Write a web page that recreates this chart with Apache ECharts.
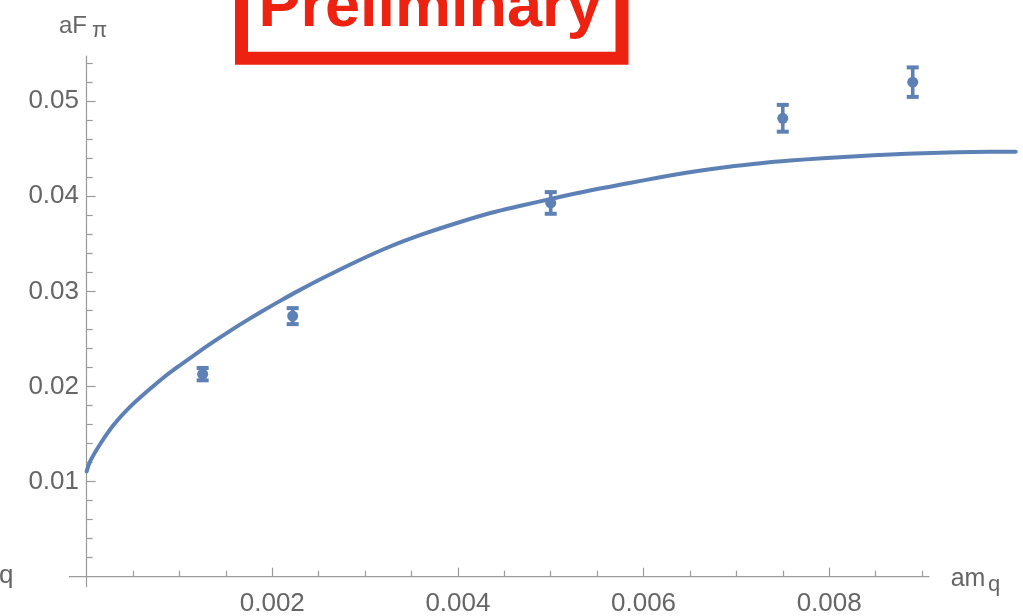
<!DOCTYPE html>
<html>
<head>
<meta charset="utf-8">
<script src="https://cdn.jsdelivr.net/npm/echarts@6/dist/echarts.min.js"></script>
<style>
  html, body { margin: 0; padding: 0; background: #ffffff; }
  #chart { width: 1023px; height: 616px; }
</style>
</head>
<body>
<div id="chart"></div>
<script>
// Lattice data: pion decay constant aF_pi versus bare quark mass am_q
const amq = [0.00125, 0.00222, 0.005, 0.0075, 0.0089];
const afpi = [0.0213, 0.0274, 0.0393, 0.0482, 0.0520];
const afpiErr = [0.00065, 0.00084, 0.00114, 0.00141, 0.00155];

// Fit curve, sampled along am_q
const fitX = [0, 0.00004, 0.00015, 0.00029, 0.00047, 0.00065, 0.00083, 0.00101, 0.00119,
  0.00136, 0.00155, 0.00173, 0.0019, 0.00209, 0.00226, 0.00255, 0.00292, 0.00327, 0.00363,
  0.00399, 0.00435, 0.0047, 0.005, 0.00546, 0.00582, 0.00618, 0.00653, 0.0069, 0.00726,
  0.00758, 0.00793, 0.0083, 0.00866, 0.00901, 0.00938, 0.00973, 0.01001];
const fitY = [0.01106, 0.01217, 0.01401, 0.01595, 0.01788, 0.01947, 0.02095, 0.02226, 0.02352,
  0.02466, 0.02588, 0.02698, 0.02797, 0.02903, 0.02995, 0.03143, 0.0332, 0.03472, 0.03604,
  0.03719, 0.03824, 0.03905, 0.03972, 0.04068, 0.04134, 0.042, 0.04258, 0.04308, 0.04347,
  0.04375, 0.044, 0.04422, 0.0444, 0.04453, 0.04462, 0.04467, 0.04469];

// Tick positions
const xMajorTicks = [0.002, 0.004, 0.006, 0.008];
const xMinorTicks = [0.0005, 0.001, 0.0015, 0.0025, 0.003, 0.0035, 0.0045, 0.005, 0.0055,
  0.0065, 0.007, 0.0075, 0.0085, 0.009];
const yMajorTicks = [0.01, 0.02, 0.03, 0.04, 0.05];
const yMinorTicks = [0.002, 0.004, 0.006, 0.008, 0.012, 0.014, 0.016, 0.018, 0.022, 0.024,
  0.026, 0.028, 0.032, 0.034, 0.036, 0.038, 0.042, 0.044, 0.046, 0.048, 0.052, 0.054];

// Plot window and the drawn extent of the horizontal axis line
const xRange = [-0.00019, 0.0101];
const yRange = [-0.00105, 0.05475];
const xAxisLineSpan = [-0.00019, 0.00908];

const BLUE = '#5e81b5';
const AXIS = '#9a9a9a';
const TEXT = '#666666';
const RED = '#ee2211';
const FONT = '"Liberation Sans", Arial, Helvetica, sans-serif';

const chart = echarts.init(document.getElementById('chart'), null, { renderer: 'canvas' });

function xAxisDef(major) {
  return {
    type: 'value',
    min: xRange[0], max: xRange[1],
    position: major ? 'bottom' : 'top',
    axisLine: { show: true, onZero: true, onZeroAxisIndex: 0,
      lineStyle: { color: 'rgba(0,0,0,0)', width: 1 } },
    axisTick: major
      ? { show: true, inside: true, length: 9, customValues: xMajorTicks, lineStyle: { color: AXIS, width: 1.2 } }
      : { show: true, inside: false, length: 6, customValues: xMinorTicks, lineStyle: { color: AXIS, width: 1.2 } },
    axisLabel: major
      ? { show: true, customValues: xMajorTicks, margin: 4, fontSize: 26, color: TEXT, fontFamily: FONT }
      : { show: false },
    splitLine: { show: false },
    minorTick: { show: false }
  };
}

function yAxisDef(major) {
  return {
    type: 'value',
    min: yRange[0], max: yRange[1],
    position: major ? 'left' : 'right',
    axisLine: { show: true, onZero: true, onZeroAxisIndex: 0,
      lineStyle: { color: major ? AXIS : 'rgba(0,0,0,0)', width: 1.2 } },
    axisTick: major
      ? { show: true, inside: true, length: 9, customValues: yMajorTicks, lineStyle: { color: AXIS, width: 1.2 } }
      : { show: true, inside: false, length: 6, customValues: yMinorTicks, lineStyle: { color: AXIS, width: 1.2 } },
    axisLabel: major
      ? { show: true, customValues: yMajorTicks, margin: -10, fontSize: 26, color: TEXT, fontFamily: FONT }
      : { show: false },
    splitLine: { show: false },
    minorTick: { show: false }
  };
}

function renderErrorBar(params, api) {
  const x = api.value(0);
  const y = api.value(1);
  const e = api.value(2);
  const top = api.coord([x, y + e]);
  const bot = api.coord([x, y - e]);
  const mid = api.coord([x, y]);
  const capW = 12, capH = 4;
  return {
    type: 'group',
    children: [
      { type: 'line', shape: { x1: mid[0], y1: top[1], x2: mid[0], y2: bot[1] },
        style: { stroke: BLUE, lineWidth: 3.6 } },
      { type: 'rect', shape: { x: mid[0] - capW / 2, y: top[1] - capH / 2, width: capW, height: capH },
        style: { fill: BLUE } },
      { type: 'rect', shape: { x: mid[0] - capW / 2, y: bot[1] - capH / 2, width: capW, height: capH },
        style: { fill: BLUE } },
      { type: 'circle', shape: { cx: mid[0], cy: mid[1], r: 5.5 }, style: { fill: BLUE } }
    ]
  };
}

const option = {
  animation: false,
  backgroundColor: '#ffffff',
  grid: { left: 69, right: -1.1, top: 56, bottom: 29.3, containLabel: false, outerBoundsMode: 'none' },
  xAxis: [xAxisDef(true), xAxisDef(false)],
  yAxis: [yAxisDef(true), yAxisDef(false)],
  series: [
    {
      name: 'axis',
      type: 'line',
      xAxisIndex: 0, yAxisIndex: 0,
      data: xAxisLineSpan.map(x => [x, 0]),
      symbol: 'none',
      silent: true,
      lineStyle: { color: AXIS, width: 1.2 },
      z: 1
    },
    {
      name: 'fit',
      type: 'line',
      xAxisIndex: 0, yAxisIndex: 0,
      data: fitX.map((x, i) => [x, fitY[i]]),
      smooth: 0.3,
      showSymbol: false,
      symbol: 'none',
      lineStyle: { color: BLUE, width: 4, join: 'round', cap: 'round' },
      z: 2
    },
    {
      name: 'data',
      type: 'custom',
      xAxisIndex: 0, yAxisIndex: 0,
      data: amq.map((x, i) => [x, afpi[i], afpiErr[i]]),
      encode: { x: 0, y: 1 },
      renderItem: renderErrorBar,
      clip: false,
      z: 3
    }
  ],
  graphic: [
    // axis names
    { type: 'text', x: 59, y: 26.4, style: { text: 'aF', font: '24px ' + FONT, fill: TEXT, verticalAlign: 'middle' } },
    { type: 'text', x: 92, y: 31.4, style: { text: 'π', font: '22px ' + FONT, fill: TEXT, verticalAlign: 'middle' } },
    { type: 'text', x: 950.7, y: 579.3, style: { text: 'am', font: '25px ' + FONT, fill: TEXT, verticalAlign: 'middle' } },
    { type: 'text', x: 988, y: 585.4, style: { text: 'q', font: '22px ' + FONT, fill: TEXT, verticalAlign: 'middle' } },
    { type: 'text', x: -1, y: 576.3, style: { text: 'q', font: '26px ' + FONT, fill: TEXT, verticalAlign: 'middle' } },
    // stamp
    { type: 'rect', shape: { x: 241.5, y: -100, width: 380.5, height: 158.3 },
      style: { fill: 'none', stroke: RED, lineWidth: 13 }, z: 10 },
    { type: 'text', x: 258.5, y: 8.7, z: 10,
      style: { text: 'Preliminary', font: 'bold 63px ' + FONT, fill: RED, verticalAlign: 'middle' } }
  ]
};

chart.setOption(option);
</script>
</body>
</html>
